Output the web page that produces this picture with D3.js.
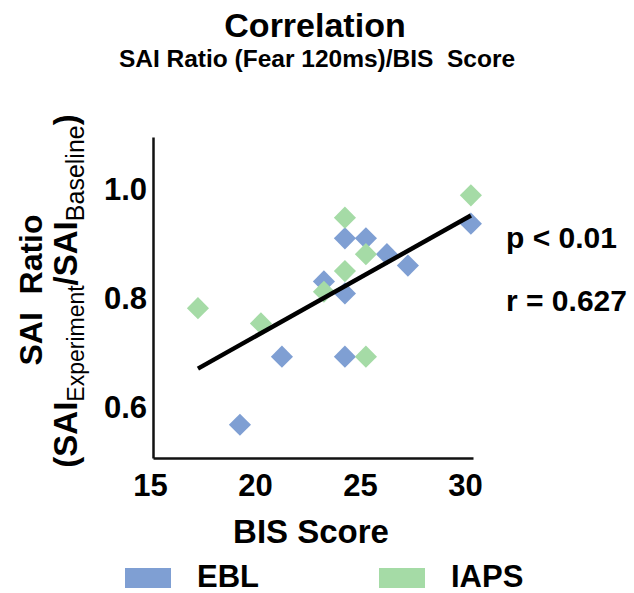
<!DOCTYPE html>
<html>
<head>
<meta charset="utf-8">
<script src="https://cdn.jsdelivr.net/npm/d3@7"></script>
<style>
  html, body { margin: 0; padding: 0; background: #fff; }
  svg { display: block; font-family: "Liberation Sans", Arial, sans-serif; font-weight: bold; }
</style>
</head>
<body>
<svg id="chart" width="634" height="593"></svg>
<script>
// ---- data ----
const eblBIS   = [19, 21, 23, 24, 24, 24, 25, 26, 27, 30];
const eblRatio = [0.569, 0.694, 0.832, 0.911, 0.810, 0.694, 0.911, 0.882, 0.861, 0.938];
const iapsBIS   = [17, 20, 23, 24, 24, 25, 25, 30];
const iapsRatio = [0.783, 0.755, 0.813, 0.949, 0.851, 0.882, 0.694, 0.990];
const fitBIS   = [17, 30];
const fitRatio = [0.672, 0.953];
const xTicks = [15, 20, 25, 30];
const yTicks = [0.6, 0.8, 1.0];
const seriesNames = ["EBL", "IAPS"];
const seriesColors = ["#7f9fd3", "#a5dba6"];
const annotations = ["p < 0.01", "r = 0.627"];

// ---- chart ----
const svg = d3.select("#chart");
const x = d3.scaleLinear().domain([14.86, 30.1]).range([153, 473]);
const y = d3.scaleLinear().domain([0.508, 1.097]).range([458, 137]);

// titles
svg.append("text").attr("x", 315).attr("y", 37).attr("text-anchor", "middle")
  .attr("font-size", 34).text("Correlation");
svg.append("text").attr("x", 317).attr("y", 67).attr("text-anchor", "middle")
  .attr("font-size", 24.5).text("SAI Ratio (Fear 120ms)/BIS\u00A0\u00A0Score");

// axes
const xAxis = svg.append("g").attr("transform", `translate(0,${y.range()[0]})`)
  .call(d3.axisBottom(x).tickValues(xTicks).tickSize(0).tickPadding(16).tickFormat(d3.format("d")));
const yAxis = svg.append("g").attr("transform", `translate(${x.range()[0]},0)`)
  .call(d3.axisLeft(y).tickValues(yTicks).tickSize(0).tickPadding(6).tickFormat(d3.format(".1f")));
[xAxis, yAxis].forEach(g => {
  g.select(".domain").attr("stroke", "#111").attr("stroke-width", 2.5);
  g.selectAll("text").attr("font-size", 31).attr("font-weight", "bold")
    .attr("font-family", "'Liberation Sans', Arial, sans-serif").attr("fill", "#000");
});
xAxis.selectAll("text").attr("dx", -6);

// points
const diamond = d3.symbol().type(d3.symbolSquare).size(245);
const series = [
  { name: seriesNames[0], xs: eblBIS, ys: eblRatio, color: seriesColors[0] },
  { name: seriesNames[1], xs: iapsBIS, ys: iapsRatio, color: seriesColors[1] }
];
series.forEach(s => {
  svg.append("g").selectAll("path").data(s.xs.map((v, i) => [v, s.ys[i]])).join("path")
    .attr("d", diamond)
    .attr("transform", d => `translate(${x(d[0])},${y(d[1])}) rotate(45)`)
    .attr("fill", s.color);
});

// regression line
svg.append("path")
  .datum(fitBIS.map((v, i) => [v, fitRatio[i]]))
  .attr("d", d3.line().x(d => x(d[0])).y(d => y(d[1])))
  .attr("stroke", "#000").attr("stroke-width", 4.5).attr("fill", "none");

// annotations
svg.append("text").attr("x", 506).attr("y", 248).attr("font-size", 30).text(annotations[0]);
svg.append("text").attr("x", 506).attr("y", 311).attr("font-size", 30).text(annotations[1]);

// axis titles
svg.append("text").attr("x", 311).attr("y", 543).attr("text-anchor", "middle")
  .attr("font-size", 33).text("BIS Score");

const yt = svg.append("g").attr("transform", "translate(42,290) rotate(-90)");
yt.append("text").attr("text-anchor", "middle").attr("font-size", 32).text("SAI\u00A0\u00A0Ratio");
const yt2 = svg.append("g").attr("transform", "translate(77,291) rotate(-90)")
  .append("text").attr("text-anchor", "middle").attr("font-size", 33);
yt2.append("tspan").text("(SAI");
yt2.append("tspan").attr("font-size", 23).attr("font-weight", "normal").attr("dy", 7).text("Experiment");
yt2.append("tspan").attr("dy", -7).text("/SAI");
yt2.append("tspan").attr("font-size", 25).attr("font-weight", "normal").attr("dy", 7).text("Baseline");
yt2.append("tspan").attr("dy", -7).text(")");

// legend
const leg = svg.append("g");
const legX = [125, 379];
series.forEach((s, i) => {
  leg.append("rect").attr("x", legX[i]).attr("y", 568).attr("width", 46).attr("height", 20).attr("fill", s.color);
  leg.append("text").attr("x", legX[i] + 72).attr("y", 587).attr("font-size", 31).text(s.name);
});
</script>
</body>
</html>
